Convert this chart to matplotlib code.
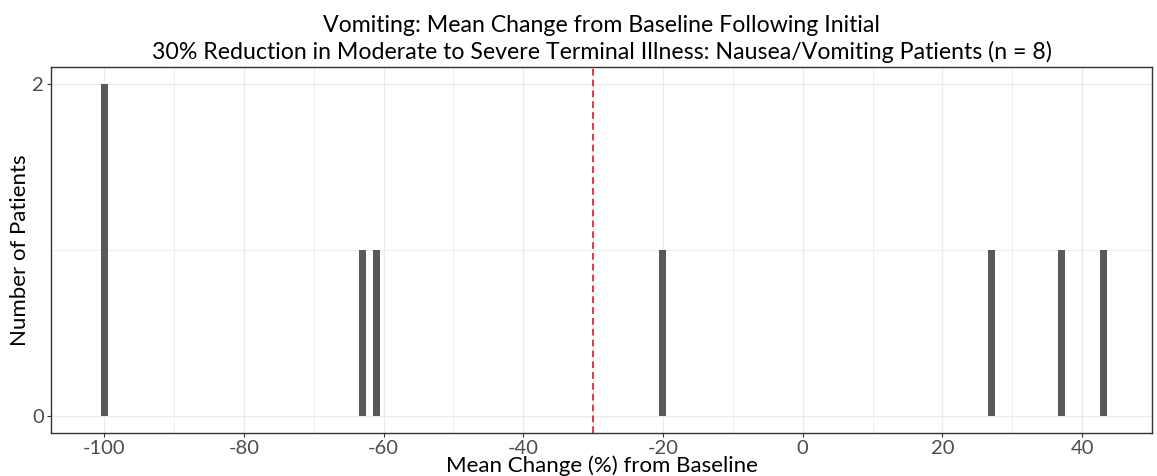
import matplotlib
matplotlib.use("Agg")
import matplotlib.pyplot as plt
import numpy as np

# Data
change_values = [-100, -63, -61, -20, 27, 37, 43]
patient_counts = [2, 1, 1, 1, 1, 1, 1]
threshold = -30
x_major = [-100, -80, -60, -40, -20, 0, 20, 40]
x_minor = [-90, -70, -50, -30, -10, 10, 30, 50]
y_major = [0, 2]
y_minor = [1]
title = ("Vomiting: Mean Change from Baseline Following Initial\n"
         "30% Reduction in Moderate to Severe Terminal Illness: Nausea/Vomiting Patients (n = 8)")

plt.rcParams['font.family'] = ['Lato', 'DejaVu Sans']

fig = plt.figure(figsize=(11.57, 4.76), dpi=100)
ax = fig.add_axes([51/1157, 43/476, (1152-51)/1157, (433-67)/476])

ax.set_xlim(-107.6, 50.0)
ax.set_ylim(-0.1, 2.1)

for v in x_major + x_minor:
    ax.axvline(v, color='#ebebeb', lw=1.0 if v in x_major else 0.6, zorder=0)
for v in y_major + y_minor:
    ax.axhline(v, color='#ebebeb', lw=1.0 if v in y_major else 0.6, zorder=0)

ax.bar(change_values, patient_counts, width=1.0, color='#595959', zorder=2)
ax.axvline(threshold, color='#e8141c', lw=1.2, ls=(0, (4, 2.5)), zorder=3)

ax.set_xticks(x_major)
ax.set_xticklabels([str(v) for v in x_major])
ax.set_yticks(y_major)
ax.tick_params(axis='both', colors='#333333', labelcolor='#4d4d4d', labelsize=14.5, length=3, pad=2)
for s in ax.spines.values():
    s.set_color('#333333')
    s.set_linewidth(1.0)

ax.set_xlabel("Mean Change (%) from Baseline", fontsize=16, labelpad=-1)
ax.set_ylabel("Number of Patients", fontsize=16, labelpad=2)
ax.set_title(title, fontsize=16.7, pad=6, linespacing=1.25)

fig.savefig("out.png", dpi=100, facecolor='white')
